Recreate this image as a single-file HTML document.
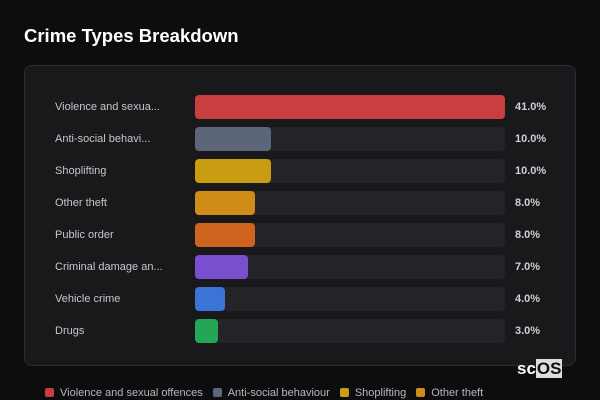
<!DOCTYPE html>
<html><head><meta charset="utf-8"><style>
body{margin:0;width:600px;height:400px;background:#0d0d10;font-family:"Liberation Sans","DejaVu Sans",sans-serif;overflow:hidden;position:relative}
#title{position:absolute;left:24px;top:25px;color:#fff;font-weight:bold;font-size:18.5px}
#card{position:absolute;left:24px;top:65px;width:550px;height:299px;border:1px solid #2c2c31;border-radius:8px;background:#19191c}
.lbl{position:absolute;left:55px;color:#c8c8cc;font-size:11px}
.trk{position:absolute;left:195px;width:310px;height:24px;background:#242428;border-radius:4px}
.bar{position:absolute;left:0;top:0;height:24px;border-radius:4px}
.val{position:absolute;left:515px;color:#d0d0d4;font-size:11px;font-weight:bold}
#legend{position:absolute;left:45px;top:387px;font-size:11px;color:#b8b8bc;white-space:nowrap}
.li{display:inline-block;margin-right:10px}
.sw{display:inline-block;width:9px;height:9px;border-radius:2px;margin-right:6px;vertical-align:-1px}
#logo{position:absolute;left:517px;top:359px;color:#fff;font-weight:bold;font-size:17px}
</style></head><body>
<div id="title">Crime Types Breakdown</div>
<div id="card"></div>
<div id="rows"></div>
<div id="legend"></div>
<div id="logo">sc<span style="background:#ddd;color:#111;padding:0 1px">OS</span></div>
<script>
const categories=["Violence and sexua...","Anti-social behavi...","Shoplifting","Other theft","Public order","Criminal damage an...","Vehicle crime","Drugs"];
const values=[41,10,10,8,8,7,4,3];
const colors=["#c93f3f","#5b6679","#c89d12","#cf8c17","#cf6420","#7a4fcf","#3b73d6","#23a656"];
const legendNames=["Violence and sexual offences","Anti-social behaviour","Shoplifting","Other theft"];
const maxV=Math.max(...values);
const x=v=>v/maxV*310;
const rows=document.getElementById('rows');
categories.forEach((c,i)=>{
  const cy=107+i*32;
  const l=document.createElement('div');l.className='lbl';l.style.top=(cy-6)+'px';l.textContent=c;
  
  
  rows.appendChild(l);
  const t=document.createElement('div');t.className='trk';t.style.top=(cy-12)+'px';
  
  
  const b=document.createElement('div');b.className='bar';b.style.width=x(values[i])+'px';b.style.background=colors[i];
  
  
  t.appendChild(b);rows.appendChild(t);
  const v=document.createElement('div');v.className='val';v.style.top=(cy-6)+'px';v.textContent=values[i].toFixed(1)+'%';
  
  
  rows.appendChild(v);
});
const lg=document.getElementById('legend');
legendNames.forEach((n,i)=>{
  const s=document.createElement('span');s.className='li';
  
  
  s.innerHTML='<span class="sw" style="background:'+colors[i]+'"></span>'+n;
  lg.appendChild(s);
});
</script>
</body></html>
